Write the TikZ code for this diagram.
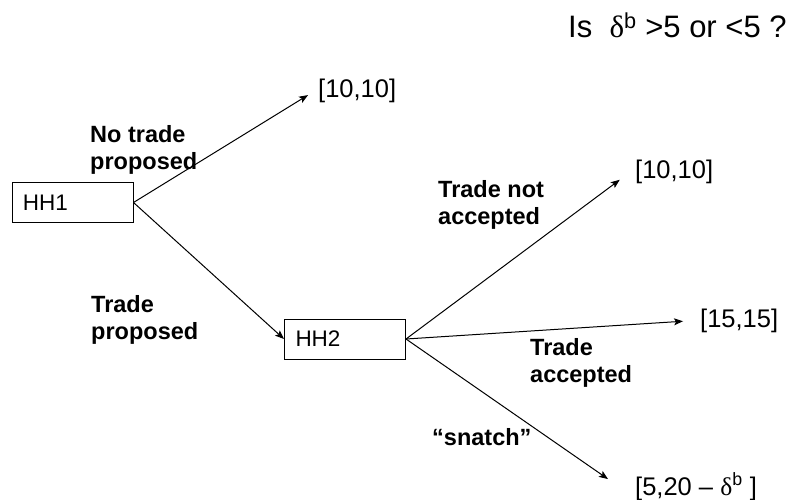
\documentclass[tikz,border=0pt]{standalone}
\usepackage{fontspec}
\setmainfont{Liberation Sans}
\newfontfamily\symfont{Liberation Serif}
\usepackage{tikz}
\usetikzlibrary{arrows.meta}
\newcommand\dlt{{\symfont δ}\textsuperscript{b}}
\tikzstyle{player}=[draw,line width=1pt,minimum width=121pt,minimum height=40pt,text width=99pt,inner xsep=11pt,align=left,font=\fontsize{22.5}{26}\selectfont]
\tikzstyle{payoff}=[anchor=base west,inner sep=4pt,font=\fontsize{25.5}{30}\selectfont]
\tikzstyle{move}=[anchor=base west,inner sep=0pt,align=left,font=\bfseries\fontsize{23.5}{27}\selectfont]
\tikzstyle{mv}=[line width=1pt,-{Stealth[length=9pt,width=7pt,inset=2pt]}]
\begin{document}
\begin{tikzpicture}[x=1pt,y=-1pt]
	\useasboundingbox (0,0) rectangle (792,500);
	\node[player] (hh1) at (72.5,202.5) {HH1};
	\node[player] (hh2) at (345,339) {HH2};
	\node[payoff] (nt)  at (314,98)  {[10,10]};
	\node[payoff] (na)  at (631,178) {[10,10]};
	\node[payoff] (acc) at (696,327) {[15,15]};
	\node[payoff] (sn)  at (631,495) {[5,20 -- \dlt\ ]};
	\node[anchor=base west,inner sep=0pt,font=\fontsize{31}{36}\selectfont] (q) at (568,38) {Is\ \ \dlt\ >5 or <5 ?};
	% base of a two-line label is its last line
	\node[move] (lnt)  at (90,169)  {No trade\\proposed};
	\node[move] (ltp)  at (91,339)  {Trade\\proposed};
	\node[move] (lna)  at (438,224) {Trade not\\accepted};
	\node[move] (lacc) at (530,382) {Trade\\accepted};
	\node[move] (lsn)  at (432,445) {“snatch”};
	\draw[mv,shorten >=7pt] (hh1.east) -- (nt.west);
	\draw[mv] (hh1.east) -- (hh2.west);
	\draw[mv,shorten >=14pt] (hh2.east) -- (na.west);
	\draw[mv,shorten >=13pt] (hh2.east) -- (acc.west);
	\draw[mv,shorten >=28pt] (hh2.east) -- (sn.base west);
\end{tikzpicture}
\end{document}
